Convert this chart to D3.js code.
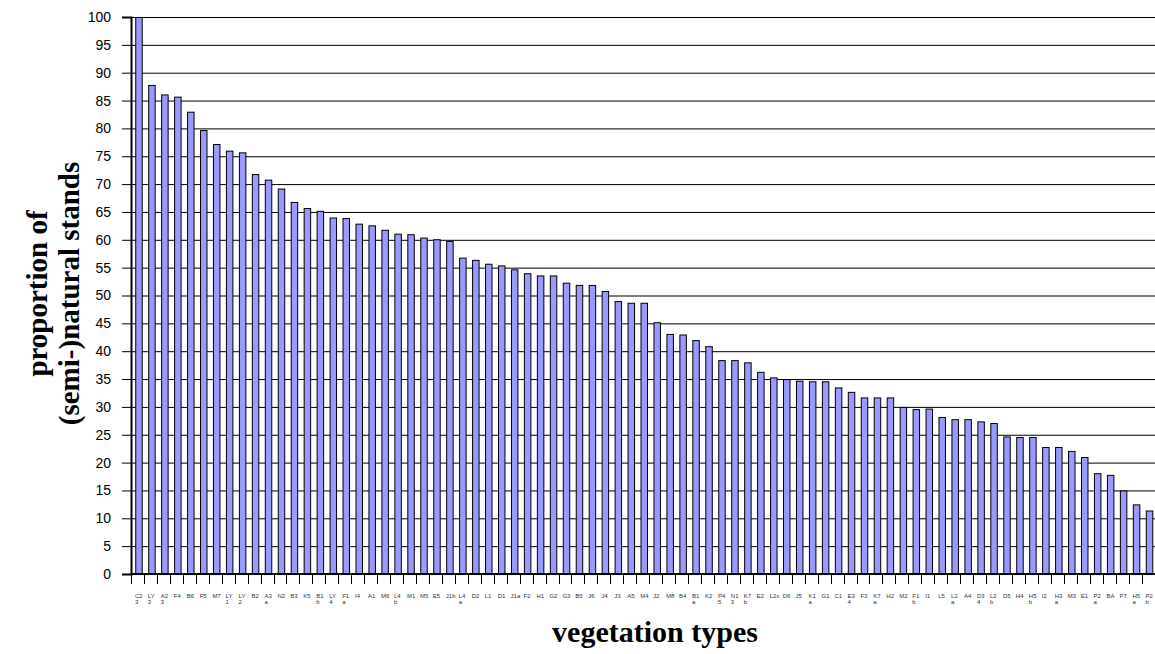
<!DOCTYPE html>
<html>
<head>
<meta charset="utf-8">
<script src="https://cdn.jsdelivr.net/npm/d3@7"></script>
<style>
  body { margin: 0; background: #fff; }
  svg { display: block; }
</style>
</head>
<body>
<div id="chart"></div>
<script>
// vegetation types, "main sub" -> second part goes on a second line
var categories = ["C2 3","LY 3","A2 3","F4","B6","F5","M7","LY 1","LY 2","B2",
  "A3 a","N2","B3","K5","B1 b","LY 4","F1 a","I4","A1","M6",
  "L4 b","M1","M5","E5","J1b","L4 a","D2","L1","D1","J1a",
  "F2","H1","G2","G3","B5","J6","J4","J3","A5","M4",
  "J2","M8","B4","B1 a","K2","P4 5","N1 3","K7 b","E2","L2x",
  "D6","J5","K1 a","G1","C1","E3 4","F3","K7 a","H2","M2",
  "F1 b","I1","L5","L2 a","A4","D3 4","L2 b","D5","H4","H5 b",
  "I2","H3 a","M3","E1","P2 a","BA","P7","H5 a","P2 b"];

var values = [100,87.8,86.1,85.7,83.0,79.7,77.2,76.0,75.7,71.8,
  70.8,69.2,66.8,65.7,65.2,64.0,63.9,62.9,62.6,61.8,
  61.1,61.0,60.4,60.1,59.8,56.8,56.4,55.7,55.4,54.7,
  54.0,53.6,53.6,52.3,51.9,51.9,50.8,49.0,48.7,48.7,
  45.2,43.1,43.0,42.0,40.9,38.4,38.4,38.0,36.3,35.3,
  35.0,34.7,34.6,34.6,33.5,32.7,31.7,31.7,31.7,30.0,
  29.6,29.7,28.2,27.8,27.8,27.4,27.1,24.7,24.6,24.6,
  22.8,22.8,22.1,21.0,18.1,17.8,15.0,12.5,11.4];

var yTicks = d3.range(0, 101, 5);

var width = 1155, height = 654;
var margin = {left: 131, right: 0.5, top: 17, bottom: 80};

var svg = d3.select("#chart").append("svg")
    .attr("width", width)
    .attr("height", height);

var x = d3.scaleBand()
    .domain(categories)
    .range([margin.left, width - margin.right])
    .paddingInner(0.5)
    .paddingOuter(0.25);

var y = d3.scaleLinear()
    .domain([0, 100])
    .range([574, margin.top]);

// gridlines
svg.append("g").selectAll("line")
    .data(yTicks.filter(d => d > 0))
    .enter().append("line")
    .attr("x1", margin.left).attr("x2", width)
    .attr("y1", d => y(d) + 0.5).attr("y2", d => y(d) + 0.5)
    .attr("stroke", "#000").attr("stroke-width", 1);

// bars
svg.append("g").selectAll("rect")
    .data(values)
    .enter().append("rect")
    .attr("x", (d, i) => x(categories[i]) + 1.5)
    .attr("y", d => y(d) + 0.5)
    .attr("width", x.bandwidth())
    .attr("height", d => y(0) - y(d))
    .attr("fill", "#9999ff")
    .attr("stroke", "#000")
    .attr("stroke-width", 1);

// y axis
var yAxis = d3.axisLeft(y)
    .tickValues(yTicks)
    .tickSize(9)
    .tickPadding(11);
var gy = svg.append("g")
    .attr("transform", "translate(" + margin.left + ",0)")
    .call(yAxis);
gy.select(".domain").attr("stroke-width", 2);
gy.selectAll("text")
    .attr("font-family", "Arial, 'Liberation Sans', sans-serif")
    .attr("font-size", 14)
    .attr("fill", "#000");

// x axis line and ticks at category boundaries
var half = (x.step() - x.bandwidth()) / 2;
svg.append("line")
    .attr("x1", margin.left).attr("x2", width)
    .attr("y1", y(0)).attr("y2", y(0))
    .attr("stroke", "#000").attr("stroke-width", 2);
svg.append("g").selectAll("line")
    .data(categories)
    .enter().append("line")
    .attr("x1", d => Math.round(x(d) - half) + 0.5)
    .attr("x2", d => Math.round(x(d) - half) + 0.5)
    .attr("y1", y(0)).attr("y2", y(0) + 10)
    .attr("stroke", "#000");

// category labels (two lines)
var lab = svg.append("g")
    .attr("font-family", "Arial, 'Liberation Sans', sans-serif")
    .attr("font-size", 6)
    .attr("fill", "#333");
categories.forEach(function(c) {
  var parts = c.split(" ");
  var cx = x(c) + x.bandwidth() / 2 + 1;
  var t = lab.append("text").attr("x", cx - 3.6).attr("y", 598);
  t.append("tspan").attr("x", cx - 3.6).attr("y", 598).text(parts[0]);
  if (parts[1]) t.append("tspan").attr("x", cx - 3.6).attr("y", 604).text(parts[1]);
});

// axis titles
svg.append("text")
    .attr("x", 655).attr("y", 642)
    .attr("text-anchor", "middle")
    .attr("font-family", "'Times New Roman', 'Liberation Serif', serif")
    .attr("font-weight", "bold")
    .attr("font-size", 30)
    .text("vegetation types");

var yt = svg.append("text")
    .attr("transform", "translate(0," + (y(50) - 2) + ") rotate(-90)")
    .attr("text-anchor", "middle")
    .attr("font-family", "'Times New Roman', 'Liberation Serif', serif")
    .attr("font-weight", "bold")
    .attr("font-size", 29);
yt.append("tspan").attr("x", 0).attr("y", 47).text("proportion of");
yt.append("tspan").attr("x", 0).attr("y", 79).text("(semi-)natural stands");
</script>
</body>
</html>
